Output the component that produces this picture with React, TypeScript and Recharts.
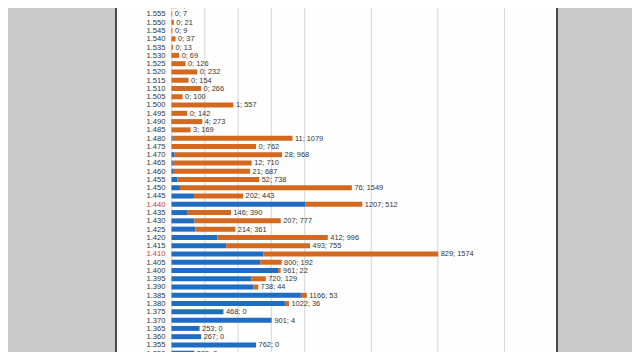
import { Bar, CartesianGrid, ComposedChart, Line, XAxis, YAxis } from "recharts";

// price levels, top to bottom (first row is cut off at the top edge)
const prices = [
  "1.565", "1.560", "1.555", "1.550", "1.545", "1.540", "1.535", "1.530", "1.525", "1.520",
  "1.515", "1.510", "1.505", "1.500", "1.495", "1.490", "1.485", "1.480", "1.475", "1.470",
  "1.465", "1.460", "1.455", "1.450", "1.445", "1.440", "1.435", "1.430", "1.425", "1.420",
  "1.415", "1.410", "1.405", "1.400", "1.395", "1.390", "1.385", "1.380", "1.375", "1.370",
  "1.365", "1.360", "1.355", "1.350",
];

// blue part of each bar
const bidVolume = [
  0, 0, 0, 0, 0, 0, 0, 0, 0, 0,
  0, 0, 0, 1, 0, 4, 3, 11, 0, 28,
  12, 21, 52, 76, 202, 1207, 146, 207, 214, 412,
  493, 829, 800, 961, 720, 738, 1166, 1022, 468, 901,
  253, 267, 762, 205,
];

// orange part of each bar
const askVolume = [
  30, 50, 7, 21, 9, 37, 13, 69, 126, 232,
  154, 266, 100, 557, 142, 273, 169, 1079, 762, 968,
  710, 687, 738, 1549, 443, 512, 390, 777, 361, 996,
  755, 1574, 192, 22, 129, 44, 53, 36, 0, 4,
  0, 0, 0, 0,
];

const highlighted = ["1.440", "1.410"];

const xTicks = [0, 300, 600, 900, 1200, 1500, 1800, 2100, 2400, 2700, 3000];

const data = prices.map((price, i) => ({
  price,
  bid: bidVolume[i],
  ask: askVolume[i],
  total: bidVolume[i] + askVolume[i],
}));

const FONT = "'Liberation Sans', Arial, sans-serif";

function PriceTick(props: any) {
  const { x, y, payload } = props;
  const red = highlighted.includes(payload.value);
  return (
    <text
      x={x}
      y={y}
      dy={2.8}
      textAnchor="end"
      fontSize={7.6}
      fontFamily={FONT}
      fill={red ? "#d33a2c" : "#333"}
    >
      {payload.value}
    </text>
  );
}

// "bid; ask" text placed just past the end of each bar
function VolumeLabel(props: any) {
  const { cx, cy, payload, index } = props;
  if (cx == null || cy == null) return null;
  return (
    <text
      key={index}
      x={cx + 2.5}
      y={cy}
      dy={2.8}
      fontSize={7.4}
      fontFamily={FONT}
      fill="#333"
    >
      {`${payload.bid}; ${payload.ask}`}
    </text>
  );
}

export default function App() {
  return (
    <div
      style={{
        position: "relative",
        width: 640,
        height: 360,
        margin: -8,
        overflow: "hidden",
        background: "#c9c9c9",
      }}
    >
      <div
        style={{
          position: "absolute",
          left: 115,
          top: 0,
          width: 439,
          height: 360,
          background: "#fefefe",
          borderLeft: "2px solid #4a4a4a",
          borderRight: "2.5px solid #4a4a4a",
          overflow: "hidden",
        }}
      >
        <div style={{ position: "absolute", left: 0, top: -6.7 }}>
          <ComposedChart
            width={439}
            height={376}
            data={data}
            layout="vertical"
            margin={{ top: 0, right: 51.5, bottom: 0, left: 0 }}
            barCategoryGap={0}
          >
            <CartesianGrid horizontal={false} stroke="#dcdcdc" strokeWidth={1.2} />
            <XAxis type="number" domain={[0, 3000]} ticks={xTicks} hide />
            <YAxis
              type="category"
              dataKey="price"
              width={54.5}
              tickLine={false}
              axisLine={false}
              tickSize={6}
              tickMargin={0}
              interval={0}
              padding={{ top: 0, bottom: 12 }}
              tick={<PriceTick />}
            />
            <Bar dataKey="bid" stackId="v" fill="#1f6cc3" barSize={5} isAnimationActive={false} />
            <Bar dataKey="ask" stackId="v" fill="#d2691f" barSize={5} isAnimationActive={false} />
            <Line
              dataKey="total"
              stroke="none"
              dot={<VolumeLabel />}
              activeDot={false}
              isAnimationActive={false}
            />
          </ComposedChart>
        </div>
      </div>
    </div>
  );
}
